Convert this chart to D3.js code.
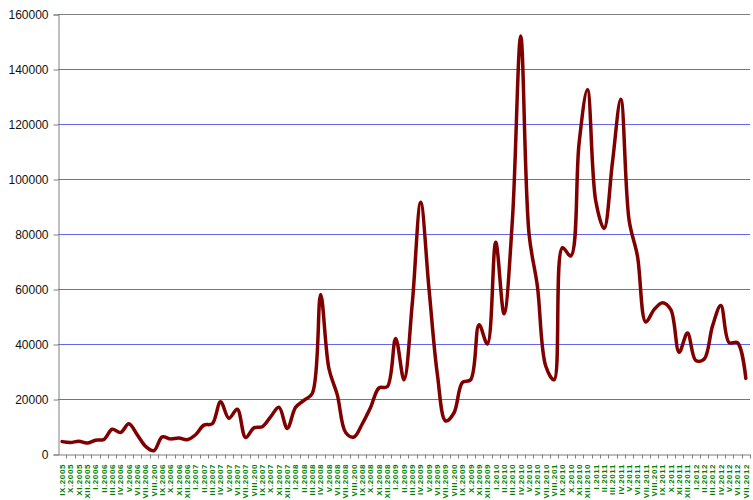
<!DOCTYPE html>
<html>
<head>
<meta charset="utf-8">
<script src="https://cdn.jsdelivr.net/npm/d3@7/dist/d3.min.js"></script>
<style>
  html, body { margin: 0; padding: 0; background: #fff; }
  svg { display: block; }
</style>
</head>
<body>
<svg id="chart" width="753" height="500"></svg>
<script>
// ---- Data ----
const romanMonths = ["I","II","III","IV","V","VI","VII","VIII","IX","X","XI","XII"];
const startYear = 2005, startMonth = 9;   // IX.2005
const monthCount = 83;                    // through VII.2012
const yTicks = [0, 20000, 40000, 60000, 80000, 100000, 120000, 140000, 160000];

// monthly values
const values = [
  4500, 4200, 4600, 4000,                                                  // IX-XII 2005
  5000, 5300, 9000, 7800, 11000, 7000, 2800, 1200, 6200, 5500, 5800, 5200, // 2006
  7000, 10500, 11000, 19000, 13000, 16300, 6000, 9500, 9900, 13500, 17000, 9300, // 2007
  17000, 19500, 22000, 58000, 31000, 21500, 7800, 6200, 11000, 17000, 24000, 24500, // 2008
  42000, 27000, 55000, 91500, 60000, 29000, 12000, 15000, 26000, 27000, 47000, 40000, // 2009
  77000, 51000, 85000, 152000, 80000, 61000, 32000, 27000, 75000, 72000, 113000, 132500, // 2010
  92000, 82000, 106000, 129000, 85000, 72000, 48000, 52500, 55000, 52500, 37000, 44000, // 2011
  34000, 34500, 46500, 54000, 40500, 40500, 27500                          // I-VII 2012
];

const categories = d3.range(monthCount).map(i => {
  const m0 = startMonth - 1 + i;
  const m = m0 % 12, yr = startYear + Math.floor(m0 / 12);
  return romanMonths[m] + "." + yr;
});

// ---- Layout ----
const svg = d3.select("#chart");
const pLeft = 58, pRight = 750, pTop = 14, pBottom = 454;

const x = d3.scaleBand().domain(categories).range([pLeft, pRight]).paddingInner(0).paddingOuter(0);
const y = d3.scaleLinear().domain([0, 160000]).range([pBottom, pTop]);

// gridlines
svg.append("g").selectAll("line").data(yTicks.filter(t => t > 0)).join("line")
  .attr("x1", pLeft).attr("x2", pRight)
  .attr("y1", d => Math.round(y(d)) + 0.5).attr("y2", d => Math.round(y(d)) + 0.5)
  .attr("stroke", d => d === 160000 ? "#808080" : "#6464f5")
  .attr("stroke-width", 1);

// y axis
const yAxis = d3.axisLeft(y).tickValues(yTicks).tickSize(5).tickPadding(5).tickFormat(d3.format("d"));
const gy = svg.append("g").attr("transform", `translate(${pLeft + 0.5},0.5)`).call(yAxis);
gy.select(".domain").attr("stroke", "#808080");
gy.selectAll(".tick line").attr("stroke", "#808080");
gy.selectAll(".tick text").attr("font-family", "Liberation Sans, Arial, sans-serif")
  .attr("font-size", 12).attr("fill", "#111");

// x axis
const xAxis = d3.axisBottom(x).tickSize(0).tickFormat("");
const gx = svg.append("g").attr("transform", `translate(0,${pBottom + 0.5})`).call(xAxis);
gx.select(".domain").attr("stroke", "#808080");
gx.selectAll(".tick").remove();
// tick marks at category boundaries
gx.append("g").selectAll("line").data(categories).join("line")
  .attr("x1", d => Math.round(x(d) + x.bandwidth()) + 0.5)
  .attr("x2", d => Math.round(x(d) + x.bandwidth()) + 0.5)
  .attr("y1", 0).attr("y2", 4).attr("stroke", "#808080");

// x labels (rotated)
svg.append("g").selectAll("text").data(categories).join("text")
  .attr("transform", d => `translate(${x(d) + x.bandwidth() / 2},464) rotate(-90)`)
  .attr("dy", "0.35em")
  .attr("text-anchor", "end")
  .attr("font-family", "Liberation Sans, Arial, sans-serif")
  .attr("font-size", 8).attr("font-weight", "bold")
  .attr("letter-spacing", "0.6px")
  .attr("fill", "#008000")
  .text(d => d.length > 8 ? d.slice(0, 8) : d);

// line
const line = d3.line()
  .x((d, i) => x(categories[i]) + x.bandwidth() / 2)
  .y(d => y(d))
  .curve(d3.curveCatmullRom.alpha(0.5));

svg.append("path").datum(values)
  .attr("d", line)
  .attr("fill", "none")
  .attr("stroke", "#800000")
  .attr("stroke-width", 3.5)
  .attr("stroke-linejoin", "round")
  .attr("stroke-linecap", "round");
</script>
</body>
</html>
